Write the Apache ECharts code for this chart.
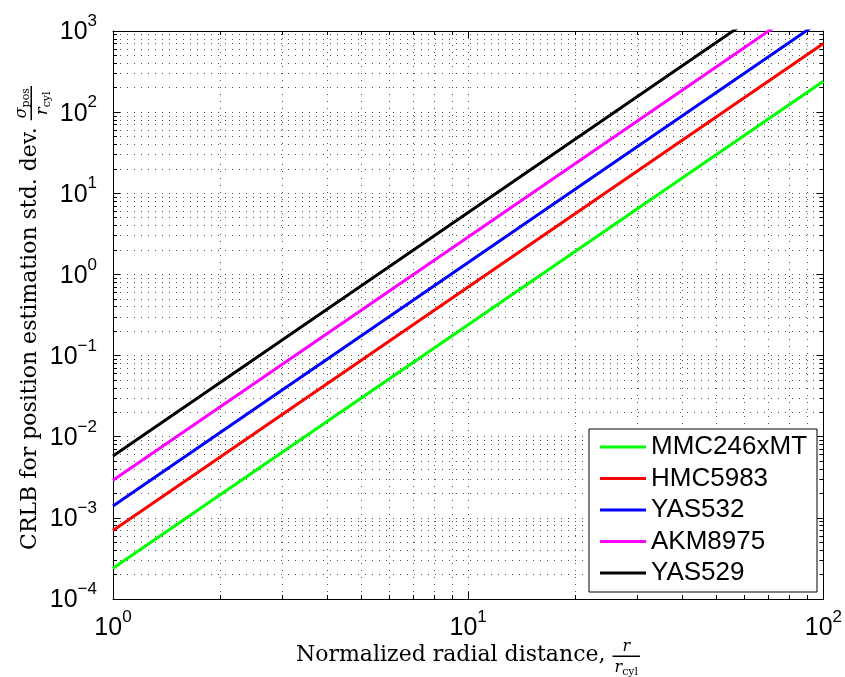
<!DOCTYPE html>
<html style="height: 100%">
<head>
    <meta charset="utf-8">
    <script src="https://cdn.jsdelivr.net/npm/echarts@6/dist/echarts.min.js"></script>
</head>
<body style="height: 100%; margin: 0; background: #fff">
<div id="container" style="width: 845px; height: 677px"></div>
<script type="text/javascript">
    // values (x = r / r_cyl)
    var xVals = [1, 10, 100];
    var mmc246xmt = [2.4e-4, 0.24, 240];
    var hmc5983 = [7e-4, 0.7, 700];
    var yas532 = [1.4e-3, 1.4, 1400];
    var akm8975 = [2.9e-3, 2.9, 2900];
    var yas529 = [5.8e-3, 5.8, 5800];

    var seriesNames = ['MMC246xMT', 'HMC5983', 'YAS532', 'AKM8975', 'YAS529'];
    var seriesColors = ['#00ff00', '#ff0000', '#0000ff', '#ff00ff', '#000000'];
    var seriesValues = [mmc246xmt, hmc5983, yas532, akm8975, yas529];

    var xExponents = [0, 1, 2];
    var yExponents = [-4, -3, -2, -1, 0, 1, 2, 3];

    var SANS = '"Liberation Sans", Arial, Helvetica, sans-serif';
    var SERIF = '"DejaVu Serif", "Liberation Serif", serif';

    var dom = document.getElementById("container");
    var myChart = echarts.init(dom);

    var cv = document.createElement('canvas').getContext('2d');
    function tw(s, size, italic, fam) {
        cv.font = (italic ? 'italic ' : '') + size + 'px ' + (fam || SERIF);
        return cv.measureText(s).width;
    }

    function powLabel(v) {
        var e = Math.round(Math.log(v) / Math.LN10);
        return '{b|10}{s|' + (e < 0 ? '\u2212' + (-e) : e) + '}';
    }
    var labelRich = {
        b: {fontSize: 25, fontFamily: SANS, color: '#000', lineHeight: 32, verticalAlign: 'bottom'},
        s: {fontSize: 17, fontFamily: SANS, color: '#000', verticalAlign: 'top'}
    };

    // text + fraction title, local coords with baseline at y = 0
    var TITLE_SIZE = 22;
    function fracTitle(mainStr, num, den) {
        var wMain = tw(mainStr, TITLE_SIZE);
        function partsW(ps) {
            var w = 0;
            ps.forEach(function (p) { w += tw(p.t, p.size, p.italic); });
            return w;
        }
        var wNum = partsW(num), wDen = partsW(den);
        var barW = Math.max(wNum, wDen) + 4;
        var total = wMain + barW;
        var x0 = -total / 2;
        var kids = [{
            type: 'text',
            style: {text: mainStr, x: x0, y: -0.31 * TITLE_SIZE, fontSize: TITLE_SIZE, fontFamily: SERIF, fill: '#000', align: 'left', verticalAlign: 'middle'}
        }];
        var bx = x0 + wMain;
        kids.push({type: 'rect', shape: {x: bx, y: -6.5, width: barW, height: 1.5}, style: {fill: '#000'}});
        function place(ps, startX, base) {
            var x = startX;
            ps.forEach(function (p) {
                kids.push({
                    type: 'text',
                    style: {
                        text: p.t, x: x, y: base + (p.dy || 0) - 0.31 * p.size,
                        fontSize: p.size, fontStyle: p.italic ? 'italic' : 'normal',
                        fontFamily: SERIF, fill: '#000', align: 'left', verticalAlign: 'middle'
                    }
                });
                x += tw(p.t, p.size, p.italic);
            });
        }
        place(num, bx + (barW - wNum) / 2, -10);
        place(den, bx + (barW - wDen) / 2, 10.5);
        return kids;
    }

    var xTitle = fracTitle('Normalized radial distance, ',
        [{t: 'r', size: 16, italic: true}],
        [{t: 'r', size: 16, italic: true}, {t: 'cyl', size: 11, dy: 3}]);
    var yTitle = fracTitle('CRLB for position estimation std. dev. ',
        [{t: '\u03c3', size: 16, italic: true}, {t: 'pos', size: 11, dy: 3}],
        [{t: 'r', size: 16, italic: true}, {t: 'cyl', size: 11, dy: 3}]);

    var dotted = {color: '#555', width: 1, type: [1, 6]};

    var series = seriesNames.map(function (name, i) {
        return {
            name: name,
            type: 'line',
            showSymbol: false,
            clip: true,
            lineStyle: {width: 3, color: seriesColors[i]},
            itemStyle: {color: seriesColors[i]},
            data: xVals.map(function (x, j) { return [x, seriesValues[i][j]]; })
        };
    });

    function logAxis(extra) {
        var base = {
            type: 'log',
            logBase: 10,
            axisLine: {show: true, lineStyle: {color: '#000', width: 1}},
            axisTick: {show: true, inside: true, length: 7, lineStyle: {color: '#000'}},
            minorTick: {show: true, splitNumber: 9, length: 4, lineStyle: {color: '#000'}},
            splitLine: {show: false},
            minorSplitLine: {show: false},
            axisLabel: {show: false}
        };
        return Object.assign(base, extra);
    }

    var option = {
        animation: false,
        backgroundColor: '#fff',
        grid: {left: 113, top: 31, right: 19, bottom: 78, containLabel: false},
        xAxis: [
            logAxis({
                position: 'bottom', min: 1, max: 100,
                splitLine: {show: true, lineStyle: dotted},
                minorSplitLine: {show: true, lineStyle: dotted},
                axisLabel: {show: true, margin: 10, formatter: powLabel, rich: labelRich}
            }),
            logAxis({position: 'top', min: 1, max: 100})
        ],
        yAxis: [
            logAxis({
                position: 'left', min: 1e-4, max: 1e3,
                splitLine: {show: true, lineStyle: dotted},
                minorSplitLine: {show: true, lineStyle: dotted},
                axisLabel: {show: true, margin: 16, padding: [0, 0, 4, 0], formatter: powLabel, rich: labelRich}
            }),
            logAxis({position: 'right', min: 1e-4, max: 1e3})
        ],
        legend: {
            data: seriesNames,
            orient: 'vertical',
            left: 589,
            top: 429,
            padding: [5, 10, 6, 11],
            itemGap: 5.5,
            itemWidth: 46,
            itemHeight: 3,
            icon: 'rect',
            backgroundColor: '#fff',
            borderColor: '#000',
            borderWidth: 1,
            borderRadius: 0,
            textStyle: {fontSize: 26, fontFamily: SANS, color: '#000', lineHeight: 26}
        },
        graphic: [
            {type: 'group', x: 468, y: 662, children: xTitle},
            {type: 'group', x: 37, y: 318, rotation: Math.PI / 2, children: yTitle}
        ],
        series: series
    };

    myChart.setOption(option);
</script>
</body>
</html>
